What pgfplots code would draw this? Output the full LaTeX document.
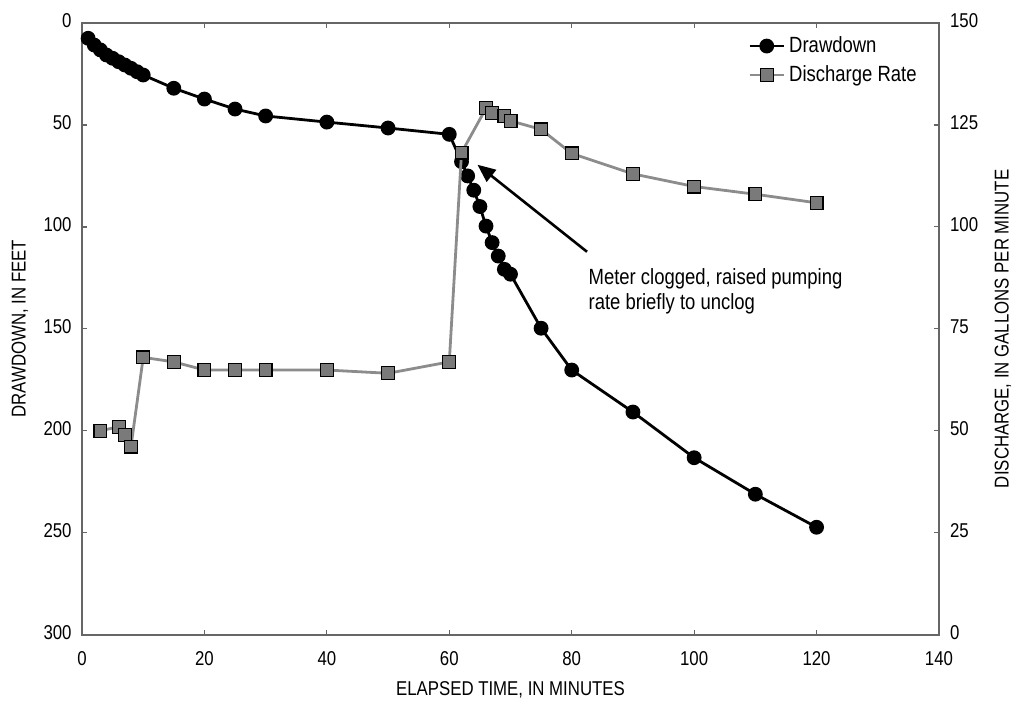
\documentclass[border=0pt]{standalone}
\usepackage{fontspec}
\setmainfont{Liberation Sans}[FakeStretch=0.84]
\usepackage{pgfplots}
\pgfplotsset{compat=1.18}
\usetikzlibrary{arrows.meta}
\definecolor{axgray}{HTML}{666666}
\definecolor{sqfill}{HTML}{7A7A7A}
\definecolor{lngray}{HTML}{8C8C8C}
\begin{document}
\begin{tikzpicture}
\pgfplotsset{
  common/.style={
    scale only axis, width=428.5pt, height=305.85pt,
    xmin=0, xmax=140,
    tick align=inside, major tick length=2.5pt,
    axis line style={axgray, line width=0.8pt},
    tick style={axgray, line width=0.6pt},
    /pgf/number format/assume math mode=true,
    tick label style={font=\fontsize{10}{12}\selectfont},
    label style={font=\fontsize{10}{12}\selectfont},
    clip=false,
  }
}
\begin{axis}[common, name=ax1,
  ymin=0, ymax=300, y dir=reverse,
  xtick={0,20,...,140}, ytick={0,50,...,300},
  xtick pos=both, ytick pos=left,
  xticklabel style={yshift=-5pt},
  yticklabel style={xshift=-1.7pt, yshift=1pt},
  xlabel={ELAPSED TIME, IN MINUTES},
  ylabel={DRAWDOWN, IN FEET},
  xlabel style={at={(axis description cs:0.5,-0.0905)}, anchor=center},
  ylabel style={at={(axis description cs:-0.0723,0.5)}, anchor=center},
]
\addplot[black, line width=1.4pt, mark=*, mark size=3pt] coordinates {
(1,7.5) (2,10.8) (3,13.2) (4,15.7) (5,17.3) (6,19) (7,20.6) (8,22.2) (9,23.9) (10,25.5)
(15,32) (20,37.3) (25,42.2) (30,45.6) (40,48.6) (50,51.5) (60,54.6)
(62,68) (63,75) (64,82) (65,90) (66,99.6) (67,107.7) (68,114.3) (69,120.8) (70,123.2)
(75,149.7) (80,170.2) (90,190.8) (100,213.2) (110,231.1) (120,247.3)
};
\draw[black, line width=1.3pt, -{Triangle[length=9pt,width=7.5pt]}] (axis cs:82.5,112.2) -- (axis cs:64.6,69.5);
\node[anchor=north west, align=left, inner sep=0pt, font=\fontsize{11}{12.5}\selectfont] at (axis cs:82.7,120) {Meter clogged, raised pumping\\rate briefly to unclog};
\end{axis}
\begin{axis}[common,
  ymin=0, ymax=150,
  axis y line*=right, axis x line=none,
  ytick={0,25,...,150},
  yticklabel style={xshift=2pt, yshift=1pt},
  ylabel={DISCHARGE, IN GALLONS PER MINUTE},
  ylabel style={at={(axis description cs:1.0747,0.5)}, anchor=center, rotate=0},
  legend style={at={(axis description cs:0.777,0.985)}, anchor=north west, draw=none, fill=none,
    font=\fontsize{11}{13}\selectfont, row sep=1pt, inner sep=0pt},
  legend cell align=left,
]
\addlegendimage{black, line width=1.4pt, mark=*, mark size=3pt}
\addlegendentry{Drawdown}
\addplot[lngray, line width=1.4pt, mark=square*, mark size=3.2pt, mark options={fill=sqfill, draw=black, line width=0.6pt}] coordinates {
(3,50) (6,51) (7,49) (8,46.1) (10,68) (15,66.9) (20,64.9) (25,64.9) (30,64.9) (40,64.9) (50,64.1) (60,66.9)
(62,118.2) (66,129.1) (67,128) (69,127.2) (70,126) (75,123.9) (80,118) (90,113) (100,109.9) (110,108) (120,105.9)
};
\addlegendentry{Discharge Rate}
\end{axis}
\pgfresetboundingbox
\path[use as bounding box] ([shift={(-41pt,-35.15pt)}]ax1.south west) rectangle ([shift={(465.5pt,317.35pt)}]ax1.south west);
\end{tikzpicture}
\end{document}
